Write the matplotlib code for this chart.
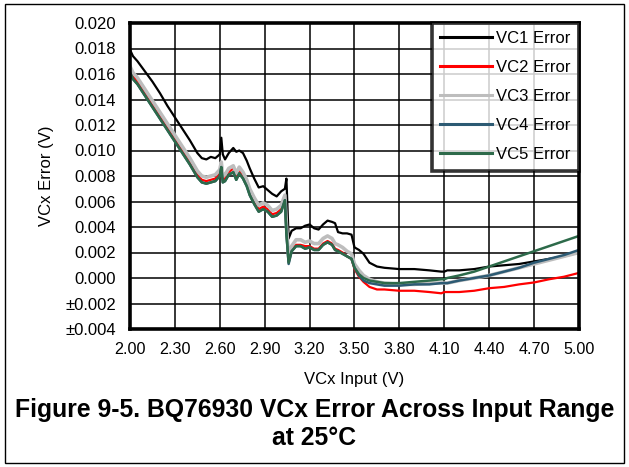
import matplotlib
matplotlib.use("Agg")
import matplotlib.pyplot as plt
from matplotlib.patches import Rectangle

plt.rcParams['font.family'] = ['Liberation Sans', 'DejaVu Sans']

x_in = [2.00, 2.02, 2.05, 2.10, 2.15, 2.20, 2.25, 2.30, 2.35, 2.40, 2.45, 2.48,
        2.51, 2.54, 2.57, 2.60, 2.61, 2.62, 2.635, 2.66, 2.69, 2.71, 2.73, 2.755,
        2.78, 2.80, 2.83, 2.86, 2.89, 2.92, 2.95, 2.98, 3.01, 3.035, 3.045, 3.06,
        3.08, 3.11, 3.14, 3.17, 3.20, 3.23, 3.26, 3.29, 3.32, 3.35, 3.37, 3.39,
        3.42, 3.45, 3.48, 3.50, 3.53, 3.56, 3.60, 3.65, 3.70, 3.80, 3.90, 4.00,
        4.08, 4.10, 4.12, 4.20, 4.30, 4.40, 4.50, 4.60, 4.70, 4.80, 4.90, 5.00]

vc1 = [0.0179, 0.0174, 0.0170, 0.0162, 0.0154, 0.0145, 0.0135, 0.0126, 0.0117, 0.0108, 0.0098, 0.0094,
       0.0093, 0.0095, 0.0094, 0.0097, 0.0110, 0.0097, 0.0093, 0.0098, 0.0102, 0.0099, 0.0100, 0.0098,
       0.0092, 0.0086, 0.0078, 0.0071, 0.0072, 0.0069, 0.0066, 0.0064, 0.0068, 0.0070, 0.0078, 0.0031,
       0.0037, 0.0039, 0.0039, 0.0041, 0.0042, 0.0039, 0.0038, 0.0042, 0.0045, 0.0044, 0.0043, 0.0036,
       0.0035, 0.0035, 0.0034, 0.0024, 0.0022, 0.0019, 0.0012, 0.0009, 0.0008, 0.0007, 0.0007, 0.0006,
       0.0005, 0.0005, 0.0006, 0.0006, 0.0007, 0.0009, 0.0010, 0.0011, 0.0013, 0.0015, 0.0017, 0.0020]

vc2 = [0.0163, 0.0158, 0.0154, 0.0145, 0.0136, 0.0127, 0.0118, 0.0109, 0.0100, 0.0091, 0.0081, 0.0077,
       0.0076, 0.0077, 0.0078, 0.0082, 0.0089, 0.0077, 0.0078, 0.0083, 0.0086, 0.0079, 0.0084, 0.0080,
       0.0074, 0.0067, 0.0060, 0.0054, 0.0056, 0.0054, 0.0050, 0.0051, 0.0054, 0.0062, 0.0037, 0.0013,
       0.0022, 0.0026, 0.0026, 0.0025, 0.0025, 0.0023, 0.0023, 0.0027, 0.0029, 0.0027, 0.0023, 0.0022,
       0.0020, 0.0017, 0.0015, 0.0007, 0.0001, -0.0003, -0.0007, -0.0009, -0.0009, -0.0010, -0.0010, -0.0011,
       -0.0012, -0.0011, -0.0011, -0.0011, -0.0010, -0.0008, -0.0007, -0.0005, -0.00035, -0.0001, 0.0001, 0.0004]

vc3 = [0.0166, 0.0161, 0.0157, 0.0148, 0.0139, 0.0130, 0.0121, 0.0112, 0.0103, 0.0094, 0.0084, 0.0080,
       0.0079, 0.0080, 0.0081, 0.0085, 0.0091, 0.0080, 0.0081, 0.0086, 0.0088, 0.0082, 0.0087, 0.0083,
       0.0077, 0.0070, 0.0063, 0.0057, 0.0059, 0.0057, 0.0053, 0.0054, 0.0057, 0.0065, 0.0042, 0.0016,
       0.0025, 0.0030, 0.0030, 0.0028, 0.0029, 0.0027, 0.0027, 0.0031, 0.0033, 0.0031, 0.0027, 0.0026,
       0.0024, 0.0021, 0.0019, 0.0011, 0.0006, 0.0002, -0.0001, -0.0003, -0.0004, -0.0005, -0.0005, -0.0004,
       -0.0004, -0.0004, -0.0004, -0.0002, 0.0000, 0.0002, 0.0005, 0.0008, 0.0011, 0.0014, 0.0017, 0.0020]

vc4 = [0.0161, 0.0156, 0.0152, 0.0143, 0.0134, 0.0125, 0.0116, 0.0107, 0.0098, 0.0089, 0.0079, 0.0075,
       0.0074, 0.0075, 0.0076, 0.0080, 0.0087, 0.0075, 0.0076, 0.0081, 0.0083, 0.0077, 0.0082, 0.0078,
       0.0072, 0.0065, 0.0058, 0.0052, 0.0054, 0.0052, 0.0048, 0.0049, 0.0052, 0.0061, 0.0035, 0.0011,
       0.0021, 0.0025, 0.0025, 0.0023, 0.0024, 0.0022, 0.0022, 0.0026, 0.0028, 0.0026, 0.0022, 0.0021,
       0.0019, 0.0017, 0.0015, 0.0008, 0.0002, -0.0002, -0.0004, -0.0005, -0.0006, -0.0006, -0.0005, -0.0005,
       -0.0004, -0.0004, -0.0004, -0.0002, 0.0000, 0.0002, 0.0005, 0.0008, 0.0012, 0.0015, 0.0018, 0.0022]

vc5 = [0.0161, 0.0156, 0.0152, 0.0143, 0.0134, 0.0125, 0.0116, 0.0107, 0.0098, 0.0089, 0.0079, 0.0075,
       0.0074, 0.0075, 0.0076, 0.0080, 0.0087, 0.0075, 0.0076, 0.0081, 0.0083, 0.0077, 0.0082, 0.0078,
       0.0072, 0.0065, 0.0058, 0.0052, 0.0054, 0.0052, 0.0048, 0.0049, 0.0052, 0.0061, 0.0035, 0.0012,
       0.0021, 0.0025, 0.0025, 0.0023, 0.0024, 0.0022, 0.0022, 0.0026, 0.0028, 0.0026, 0.0022, 0.0021,
       0.0019, 0.0017, 0.0015, 0.0008, 0.0003, 0.0000, -0.0002, -0.0003, -0.0004, -0.0004, -0.0003, -0.0002,
       -0.0001, -0.0001, 0.0000, 0.0002, 0.0005, 0.0009, 0.0013, 0.0017, 0.0021, 0.0025, 0.0029, 0.0033]

series_names = ["VC1 Error", "VC2 Error", "VC3 Error", "VC4 Error", "VC5 Error"]
series_vals = [vc1, vc2, vc3, vc4, vc5]
colors = ["#000000", "#ff0000", "#bdbdbd", "#2c5a73", "#2d6a4a"]
widths = [1.6, 1.6, 2.6, 1.8, 1.8]

x_ticks = [2.00, 2.30, 2.60, 2.90, 3.20, 3.50, 3.80, 4.10, 4.40, 4.70, 5.00]
y_ticks = [-0.004, -0.002, 0.000, 0.002, 0.004, 0.006, 0.008, 0.010, 0.012, 0.014, 0.016, 0.018, 0.020]
y_tick_labels = ["±0.004", "±0.002", "0.000", "0.002", "0.004", "0.006", "0.008", "0.010",
                 "0.012", "0.014", "0.016", "0.018", "0.020"]

fig = plt.figure(figsize=(6.29, 4.67), dpi=100)
ax = fig.add_axes([130/629, 1-329/467, 449/629, 306/467])

for name, vals, c, lw in zip(series_names, series_vals, colors, widths):
    ax.plot(x_in, vals, color=c, lw=lw, label=name, zorder=3)

ax.set_xlim(2.0, 5.0)
ax.set_ylim(-0.004, 0.020)
ax.set_xticks(x_ticks)
ax.set_xticklabels([f"{v:.2f}" for v in x_ticks], fontsize=11.6)
ax.set_yticks(y_ticks)
ax.set_yticklabels(y_tick_labels, fontsize=12)
ax.tick_params(axis="x", length=0, pad=9.5)
ax.tick_params(axis="y", length=0, pad=10)
ax.grid(True, color="black", lw=1.1, zorder=1)
for s in ax.spines.values():
    s.set_linewidth(2.6)
    s.set_zorder(5)

ax.set_xlabel("VCx Input (V)", fontsize=12, labelpad=11)
ax.set_ylabel("VCx Error (V)", fontsize=12, labelpad=8)

leg = ax.legend(loc="upper right", fontsize=12, frameon=True, fancybox=False,
                borderaxespad=0, handlelength=3.1, handletextpad=0.25,
                labelspacing=0.84, borderpad=0.5)
leg.get_frame().set_edgecolor("black")
leg.get_frame().set_linewidth(2.6)
leg.set_zorder(6)
for lh in leg.get_lines():
    lh.set_linewidth(2.2)

fig.text(0.5, 1-410/467, "Figure 9-5. BQ76930 VCx Error Across Input Range",
         ha="center", va="center", fontsize=17.8, fontweight="bold")
fig.text(0.5, 1-438/467, "at 25°C", ha="center", va="center",
         fontsize=17.8, fontweight="bold")

fig.patches.append(Rectangle((5/629, 1-463/467), 619/629, 459/467, transform=fig.transFigure,
                             fill=False, edgecolor="black", lw=1.0))

fig.savefig("out.png", dpi=100)
